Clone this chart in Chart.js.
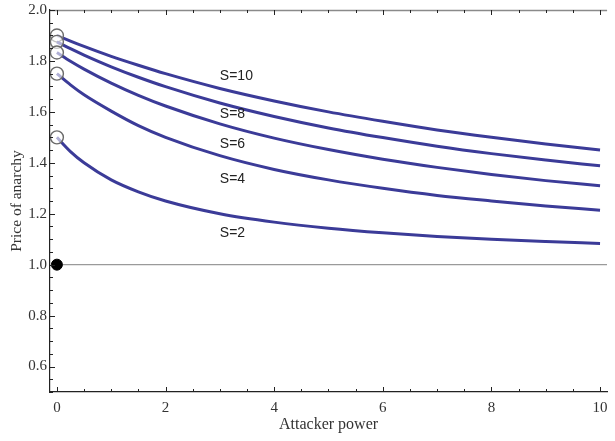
<!DOCTYPE html>
<html>
<head>
<meta charset="utf-8">
<script src="https://cdn.jsdelivr.net/npm/chart.js@4.4.1/dist/chart.umd.min.js"></script>
<style>
  body { margin: 0; background: #fff; }
  canvas { display: block; }
</style>
</head>
<body>
<canvas id="poaChart" width="615" height="441"></canvas>
<script>
// attacker power samples
const power = [0, 0.25, 0.5, 1, 1.5, 2, 3, 4, 5, 6, 7, 8, 9, 10];

// price of anarchy
const s10 = [1.900, 1.878, 1.857, 1.818, 1.783, 1.750, 1.692, 1.643, 1.600, 1.563, 1.529, 1.500, 1.474, 1.450];
const s8  = [1.875, 1.848, 1.823, 1.777, 1.736, 1.699, 1.635, 1.582, 1.537, 1.499, 1.465, 1.436, 1.411, 1.388];
const s6  = [1.833, 1.799, 1.768, 1.713, 1.665, 1.623, 1.553, 1.497, 1.452, 1.414, 1.382, 1.354, 1.330, 1.310];
const s4  = [1.750, 1.706, 1.667, 1.603, 1.546, 1.500, 1.428, 1.374, 1.333, 1.300, 1.272, 1.250, 1.230, 1.214];
const s2  = [1.500, 1.444, 1.400, 1.333, 1.286, 1.250, 1.200, 1.167, 1.143, 1.125, 1.111, 1.100, 1.091, 1.083];

const curveNames = ['S=10', 'S=8', 'S=6', 'S=4', 'S=2'];
const curves = [s10, s8, s6, s4, s2];

// curve labels, in data coordinates
const labelX = [3.0, 3.0, 3.0, 3.0, 3.0];
const labelY = [1.741, 1.592, 1.475, 1.337, 1.122];

const baseLine = [{x: 0, y: 1}, {x: 10.2, y: 1}];
const basePoint = [{x: 0, y: 1}];

const yTicks = [0.6, 0.8, 1.0, 1.2, 1.4, 1.6, 1.8, 2.0];
const xTicks = [0, 2, 4, 6, 8, 10];

const lineColor = '#3b3b98';

function toPoints(arr) {
  return arr.map((v, i) => ({x: power[i], y: v}));
}

const datasets = [];
datasets.push({
  data: baseLine,
  borderColor: '#9a9a9a',
  borderWidth: 1.2,
  pointRadius: 0,
  order: 10
});
curves.forEach((c, i) => {
  datasets.push({
    label: curveNames[i],
    data: toPoints(c),
    borderColor: lineColor,
    borderWidth: 3,
    cubicInterpolationMode: 'monotone',
    pointRadius: c.map((v, j) => j === 0 ? 6.5 : 0),
    pointBackgroundColor: 'rgba(255,255,255,0.6)',
    pointBorderColor: '#6a6a6a',
    pointBorderWidth: 1.4,
    order: 5 - i
  });
});
datasets.push({
  data: basePoint,
  pointRadius: 5.5,
  pointBackgroundColor: '#000',
  pointBorderColor: '#000',
  showLine: false,
  order: 0
});

// inward tick marks, top frame and curve labels
const framePlugin = {
  id: 'frame',
  afterDatasetsDraw(chart) {
    const ctx = chart.ctx;
    const xs = chart.scales.x, ys = chart.scales.y;
    const a = chart.chartArea;
    ctx.save();
    ctx.strokeStyle = '#8a8a8a';
    ctx.lineWidth = 1.5;
    ctx.beginPath();
    ctx.moveTo(a.left, a.top + 0.5);
    ctx.lineTo(a.right, a.top + 0.5);
    ctx.stroke();

    ctx.strokeStyle = '#222';
    ctx.lineWidth = 1;
    ctx.beginPath();
    for (let v = 0; v <= 10.001; v += 0.5) {
      const px = Math.round(xs.getPixelForValue(v)) + 0.5;
      const len = Math.abs(v % 2) < 0.01 ? 5 : 3;
      ctx.moveTo(px, a.bottom);
      ctx.lineTo(px, a.bottom - len);
      ctx.moveTo(px, a.top);
      ctx.lineTo(px, a.top + len);
    }
    for (let k = 10; k <= 40; k++) {
      const v = k * 0.05;
      const py = Math.round(ys.getPixelForValue(v)) + 0.5;
      const len = k % 4 === 0 ? 5 : 3;
      ctx.moveTo(a.left, py);
      ctx.lineTo(a.left + len, py);
    }
    ctx.stroke();

    ctx.fillStyle = '#222';
    ctx.font = '14px "Liberation Sans", Arial, sans-serif';
    ctx.textAlign = 'left';
    ctx.textBaseline = 'middle';
    curveNames.forEach((n, i) => {
      ctx.fillText(n, xs.getPixelForValue(labelX[i]), ys.getPixelForValue(labelY[i]));
    });
    ctx.restore();
  }
};

const serif = '"Liberation Serif", "Times New Roman", serif';

new Chart(document.getElementById('poaChart').getContext('2d'), {
  type: 'line',
  data: { datasets: datasets },
  options: {
    responsive: false,
    animation: false,
    events: [],
    layout: { padding: { top: 10, right: 0, left: 0, bottom: 0 } },
    plugins: { legend: { display: false }, tooltip: { enabled: false } },
    scales: {
      x: {
        type: 'linear',
        min: -0.127,
        max: 10.13,
        grid: { display: false, drawTicks: false, tickLength: 0 },
        border: { display: true, color: '#222', width: 1.2 },
        afterBuildTicks(s) { s.ticks = xTicks.map(v => ({value: v})); },
        afterFit(s) { s.height = 49; s.paddingLeft = 0; s.paddingRight = 0; },
        ticks: {
          color: '#333',
          padding: 7,
          font: { family: serif, size: 15 },
          maxRotation: 0,
          callback: v => String(v)
        },
        title: {
          display: true,
          text: 'Attacker power',
          color: '#333',
          font: { family: serif, size: 16 },
          padding: { top: 0, bottom: 7 }
        }
      },
      y: {
        type: 'linear',
        min: 0.5,
        max: 2.0,
        grid: { display: false, drawTicks: false, tickLength: 0 },
        border: { display: true, color: '#222', width: 1.2 },
        afterBuildTicks(s) { s.ticks = yTicks.map(v => ({value: v})); },
        afterFit(s) { s.width = 50; s.paddingTop = 0; s.paddingBottom = 0; },
        ticks: {
          color: '#333',
          padding: 3,
          font: { family: serif, size: 15 },
          callback: v => Number(v).toFixed(1)
        },
        title: {
          display: true,
          text: 'Price of anarchy',
          color: '#333',
          font: { family: serif, size: 15.5 },
          padding: { top: 8, bottom: 0 }
        }
      }
    }
  },
  plugins: [framePlugin]
});
</script>
</body>
</html>
